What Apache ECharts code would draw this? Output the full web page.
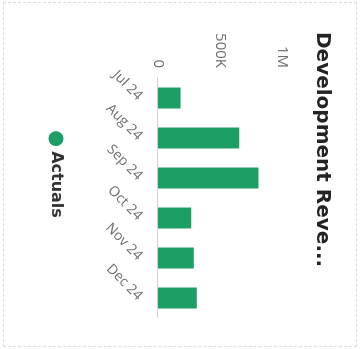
<!DOCTYPE html>
<html>
<head>
<meta charset="utf-8">
<script src="https://cdn.jsdelivr.net/npm/echarts@6/dist/echarts.min.js"></script>
<style>
  html, body { margin: 0; padding: 0; background: #fff; overflow: hidden; }
  #page { position: relative; width: 360px; height: 349px; background: #fff; }
  /* the card is laid out upright (349 wide, 360 tall) and turned a quarter clockwise */
  #card {
    position: absolute; left: 0; top: 0;
    width: 349px; height: 360px;
    transform-origin: 0 0;
    transform: translate(360px, 0) rotate(90deg);
  }
  #chart { position: absolute; left: 0; top: 0; width: 349px; height: 360px; }
  #frame {
    position: absolute; left: 2px; top: 3px; right: 2px; bottom: 3px;
    border: 1px dashed #dcdcdc; pointer-events: none;
  }
</style>
</head>
<body>
<div id="page">
  <div id="card">
    <div id="chart"></div>
    <div id="frame"></div>
  </div>
</div>
<script>
// Monthly development revenue (actuals)
const titleText = 'Development Reve...';
const categories = ['Jul 24', 'Aug 24', 'Sep 24', 'Oct 24', 'Nov 24', 'Dec 24'];
const actuals = [182000, 656000, 811000, 268000, 289000, 313000];
const valueTicks = [0, 500000, 1000000];
const valueTickLabels = ['0', '500K', '1M'];

const green = '#1d9e64';

const chart = echarts.init(document.getElementById('chart'), null, { renderer: 'canvas' });
chart.setOption({
  animation: false,
  backgroundColor: '#fff',
  title: {
    text: titleText,
    left: 27,
    top: 23,
    textStyle: {
      fontFamily: 'DejaVu Sans',
      fontWeight: 'bold',
      fontSize: 20,
      color: '#252423'
    }
  },
  legend: {
    data: ['Actuals'],
    left: 'center',
    top: 291,
    icon: 'circle',
    itemWidth: 15,
    itemHeight: 15,
    itemGap: 10,
    textStyle: {
      fontFamily: 'DejaVu Sans',
      fontWeight: 'bold',
      fontSize: 16,
      color: '#333'
    }
  },
  grid: { left: 78, right: 31, top: 78, bottom: 158, containLabel: false },
  xAxis: {
    type: 'category',
    data: categories,
    axisTick: { show: false },
    axisLine: { show: true, lineStyle: { color: '#c8c8c8', type: 'dotted', width: 1 } },
    axisLabel: {
      rotate: 45,
      margin: 18,
      fontFamily: 'Open Sans',
      fontSize: 14,
      color: '#707070'
    }
  },
  yAxis: {
    type: 'value',
    min: valueTicks[0],
    max: valueTicks[valueTicks.length - 1],
    interval: valueTicks[1] - valueTicks[0],
    splitLine: { show: false },
    axisLine: { show: false },
    axisTick: { show: false },
    axisLabel: {
      margin: 10,
      fontFamily: 'Open Sans',
      fontSize: 15,
      color: '#707070',
      formatter: function (v) {
        const i = valueTicks.indexOf(v);
        return i >= 0 ? valueTickLabels[i] : '';
      }
    }
  },
  series: [{
    name: 'Actuals',
    type: 'bar',
    data: actuals,
    barWidth: 21,
    itemStyle: { color: green }
  }]
});
</script>
</body>
</html>
